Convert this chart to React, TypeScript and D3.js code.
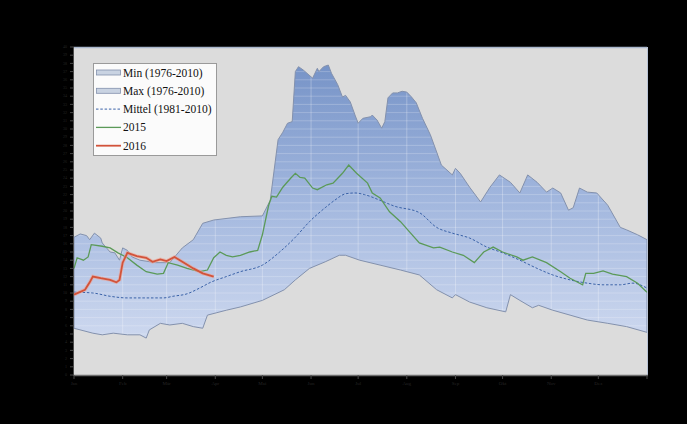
import React from "react";
import * as d3 from "d3";

const monthLabels = ["Jan", "Feb", "Mär", "Apr", "Mai", "Jun", "Jul", "Aug", "Sep", "Okt", "Nov", "Dez"];
const monthStarts = [0, 31, 59, 90, 120, 151, 181, 212, 243, 273, 304, 334, 365];

const maxDays = [0, 4, 8, 10, 13, 17, 18, 23, 26, 29, 31, 34, 37, 42, 52, 61, 69, 76, 82, 89, 106, 120, 125, 130, 133, 136, 139, 141, 143, 146, 152, 155, 156, 159, 162, 164, 168, 171, 173, 176, 179, 181, 184, 189, 190, 193, 196, 198, 200, 203, 206, 209, 212, 215, 218, 222, 227, 231, 234, 241, 243, 246, 252, 259, 265, 271, 278, 284, 289, 295, 301, 305, 310, 315, 318, 322, 327, 333, 340, 348, 352, 359, 365];
const maxVals = [16.8, 17.2, 17.0, 16.5, 17.3, 16.7, 16.1, 15.0, 14.9, 14.0, 15.5, 15.2, 14.4, 14.0, 13.7, 13.7, 15.5, 16.5, 18.5, 18.9, 19.3, 19.4, 21.3, 28.7, 29.6, 30.7, 30.9, 37.0, 37.6, 37.2, 36.2, 37.4, 37.0, 37.6, 37.8, 36.8, 35.4, 33.9, 34.1, 33.3, 31.7, 30.7, 31.3, 31.5, 31.7, 31.1, 30.1, 30.9, 33.8, 34.4, 34.4, 34.6, 34.5, 33.9, 33.2, 31.3, 29.3, 27.2, 25.6, 24.4, 25.2, 24.6, 22.9, 21.1, 22.9, 24.4, 23.5, 22.2, 24.4, 23.5, 22.3, 22.8, 22.2, 20.1, 20.4, 22.8, 22.3, 22.2, 20.7, 18.0, 17.7, 17.1, 16.5];

const minDays = [0, 12, 18, 25, 34, 42, 46, 48, 55, 61, 69, 76, 82, 85, 91, 97, 106, 120, 134, 141, 150, 160, 169, 173, 182, 195, 208, 220, 231, 241, 243, 252, 263, 275, 278, 284, 292, 296, 305, 316, 327, 340, 352, 365];
const minVals = [5.7, 5.1, 4.9, 5.1, 4.9, 4.9, 4.5, 5.5, 6.3, 6.1, 6.3, 5.9, 5.7, 7.3, 7.6, 7.9, 8.3, 9.1, 10.4, 11.6, 13.0, 13.8, 14.6, 14.6, 14.0, 13.4, 12.8, 12.2, 10.4, 9.4, 9.8, 8.9, 8.2, 7.7, 9.8, 9.1, 8.2, 8.5, 7.9, 7.3, 6.7, 6.3, 5.9, 5.2];

const meanDays = [0, 12, 23, 34, 44, 57, 63, 72, 80, 87, 97, 106, 120, 131, 141, 150, 160, 166, 173, 179, 185, 195, 204, 220, 231, 241, 252, 263, 273, 284, 295, 305, 316, 327, 337, 348, 356, 365];
const meanVals = [10.1, 10.0, 9.6, 9.4, 9.4, 9.4, 9.6, 9.9, 10.6, 11.3, 12.0, 12.6, 13.4, 15.0, 16.8, 18.7, 20.4, 21.3, 22.1, 22.2, 22.0, 21.3, 20.6, 19.8, 18.0, 17.3, 16.7, 15.6, 14.9, 14.0, 13.0, 12.2, 11.6, 11.2, 11.0, 11.0, 11.2, 10.6];

const y2015Days = [0, 2, 6, 9, 11, 18, 23, 28, 34, 40, 46, 53, 57, 60, 66, 72, 80, 85, 89, 93, 97, 101, 106, 112, 117, 120, 124, 126, 129, 133, 138, 141, 144, 147, 152, 155, 161, 165, 168, 171, 175, 180, 187, 190, 195, 201, 208, 214, 220, 229, 233, 241, 248, 255, 261, 267, 273, 282, 286, 292, 301, 310, 316, 324, 326, 331, 337, 343, 352, 359, 365];
const y2015Vals = [13.0, 14.3, 14.0, 14.4, 15.9, 15.7, 15.5, 14.9, 14.3, 13.4, 12.6, 12.3, 12.4, 13.7, 13.4, 13.0, 12.6, 12.8, 14.3, 15.0, 14.6, 14.4, 14.6, 15.0, 15.2, 17.1, 20.7, 21.8, 21.7, 22.9, 24.0, 24.6, 24.1, 24.0, 22.8, 22.6, 23.2, 23.4, 24.0, 24.6, 25.6, 24.6, 23.4, 22.2, 21.6, 19.9, 18.7, 17.4, 16.1, 15.5, 15.6, 15.0, 14.6, 13.7, 15.0, 15.6, 15.0, 14.4, 14.0, 14.4, 13.7, 12.6, 11.8, 11.0, 12.4, 12.4, 12.7, 12.3, 12.0, 11.2, 10.1];

const y2016Days = [0, 7, 10, 12, 17, 23, 27, 29, 31, 34, 40, 46, 50, 55, 59, 64, 69, 76, 82, 89];
const y2016Vals = [9.8, 10.4, 11.3, 12.0, 11.8, 11.6, 11.3, 11.6, 13.7, 14.9, 14.5, 14.3, 13.8, 14.1, 13.9, 14.4, 13.8, 13.0, 12.4, 12.0];

const yTicks = d3.range(0, 41, 1);
const legendLabels = ["Min (1976-2010)", "Max (1976-2010)", "Mittel (1981-2010)", "2015", "2016"];

type P = { d: number; v: number };
const zip = (ds: number[], vs: number[]): P[] => ds.map((d, i) => ({ d, v: vs[i] }));

export default function App() {
  const W = 687, H = 424;
  const L = 74, R = 647, T = 47, B = 375;
  const x = d3.scaleLinear().domain([0, 365]).range([L, R]);
  const y = d3.scaleLinear().domain([0, 40]).range([B, T]);
  const line = d3.line<P>().x((p) => x(p.d)).y((p) => y(p.v));
  const maxPts = zip(maxDays, maxVals);
  const minPts = zip(minDays, minVals);
  const bandPath = (line(maxPts) as string) + "L" + (line([...minPts].reverse()) as string).slice(1) + "Z";
  const meanPath = line.curve(d3.curveMonotoneX)(zip(meanDays, meanVals)) as string;
  const line2 = d3.line<P>().x((p) => x(p.d)).y((p) => y(p.v));
  const p2015 = line2(zip(y2015Days, y2015Vals)) as string;
  const p2016 = line2(zip(y2016Days, y2016Vals)) as string;

  const lx = 93, ly = 63, rowH = 18.3;

  return (
    <svg width={W} height={H} style={{ position: "absolute", left: 0, top: 0, display: "block" }} fontFamily="'Liberation Serif', 'Times New Roman', serif">
      <defs>
        <linearGradient id="bandGrad" gradientUnits="userSpaceOnUse" x1="0" y1={y(38)} x2="0" y2={y(4.5)}>
          <stop offset="0" stopColor="#7693c7" />
          <stop offset="0.5" stopColor="#a2b7de" />
          <stop offset="1" stopColor="#cdd8ef" />
        </linearGradient>
        <clipPath id="bandClip">
          <path d={bandPath} />
        </clipPath>
      </defs>
      <rect x={0} y={0} width={W} height={H} fill="#000" />
      <rect x={L} y={T} width={R - L} height={B - T} fill="#dcdcdc" />
      <path d={bandPath} fill="url(#bandGrad)" />
      <g clipPath="url(#bandClip)">
        {yTicks.map((t) => (
          <line key={"h" + t} x1={L} x2={R} y1={y(t)} y2={y(t)} stroke="#ffffff" strokeOpacity={0.22} strokeWidth={1} />
        ))}
        {monthStarts.slice(1, 12).map((m) => (
          <line key={"v" + m} x1={x(m)} x2={x(m)} y1={T} y2={B} stroke="#ffffff" strokeOpacity={0.28} strokeWidth={1} />
        ))}
      </g>
      <path d={bandPath} fill="none" stroke="#8391ad" strokeWidth={1} />
      <path d={meanPath} fill="none" stroke="#3a62a8" strokeWidth={1} strokeDasharray="2.5,1.8" />
      <path d={p2015} fill="none" stroke="#5b9a58" strokeWidth={1.3} />
      <path d={p2016} fill="none" stroke="#f0a090" strokeWidth={3.5} strokeOpacity={0.6} />
      <path d={p2016} fill="none" stroke="#d2533a" strokeWidth={1.8} />
      {/* plot border */}
      <line x1={L} x2={R} y1={T + 0.5} y2={T + 0.5} stroke="#a9b6cc" strokeWidth={1.5} />
      <line x1={R + 0.5} x2={R + 0.5} y1={T} y2={B} stroke="#b8c3d6" strokeWidth={1} />
      {/* axes */}
      <line x1={L - 0.5} x2={L - 0.5} y1={T} y2={B + 1} stroke="#4a4a4a" strokeWidth={1} />
      <line x1={L} x2={R + 1} y1={B + 0.5} y2={B + 0.5} stroke="#6e6e6e" strokeWidth={1.5} />
      {yTicks.map((t) => (
        <g key={"yt" + t}>
          <line x1={L - 4} x2={L} y1={y(t)} y2={y(t)} stroke="#4a4a4a" strokeWidth={1} />
          <text x={L - 7} y={y(t)} dy="0.32em" textAnchor="end" fontSize={4} fill="#262626">{t}</text>
        </g>
      ))}
      {monthStarts.map((m, i) => (
        <g key={"xt" + i}>
          <line x1={x(m)} x2={x(m)} y1={B} y2={B + 4} stroke="#4a4a4a" strokeWidth={1} />
          {i < 12 && (
            <text x={x(m)} y={B + 10} textAnchor="middle" fontSize={5} fill="#262626">{monthLabels[i]}</text>
          )}
        </g>
      ))}
      {/* legend */}
      <rect x={lx + 0.5} y={ly + 0.5} width={123} height={92} fill="#fbfbfb" stroke="#9a9a9a" strokeWidth={1} />
      {legendLabels.map((lab, i) => {
        const cy = ly + 9.5 + i * rowH;
        return (
          <g key={lab}>
            {i < 2 && <rect x={lx + 3.5} y={cy - 2.5} width={24} height={5} fill="#c9d3e2" stroke="#8391ad" strokeWidth={0.8} />}
            {i === 2 && <line x1={lx + 3} x2={lx + 28} y1={cy} y2={cy} stroke="#3a62a8" strokeWidth={1} strokeDasharray="2.5,1.8" />}
            {i === 3 && <line x1={lx + 3} x2={lx + 28} y1={cy} y2={cy} stroke="#5b9a58" strokeWidth={1.3} />}
            {i === 4 && <line x1={lx + 3} x2={lx + 28} y1={cy} y2={cy} stroke="#d2533a" strokeWidth={1.8} />}
            <text x={lx + 30} y={cy} dy="0.35em" fontSize={11.5} fill="#111">{lab}</text>
          </g>
        );
      })}
    </svg>
  );
}
